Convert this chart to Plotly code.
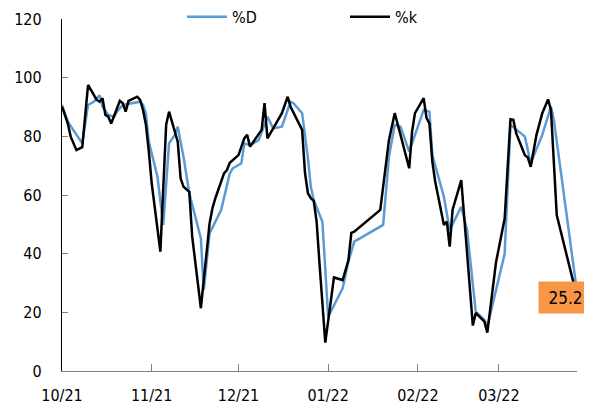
import plotly.graph_objects as go

k_dates = ["2021-10-01","2021-10-03","2021-10-04","2021-10-06","2021-10-08","2021-10-10","2021-10-13","2021-10-14","2021-10-15","2021-10-16",
           "2021-10-17","2021-10-18","2021-10-21","2021-10-22","2021-10-23","2021-10-24","2021-10-27","2021-10-28","2021-10-29","2021-10-30",
           "2021-10-31","2021-11-01","2021-11-04","2021-11-06","2021-11-07","2021-11-09","2021-11-10","2021-11-11","2021-11-12","2021-11-14",
           "2021-11-15","2021-11-18","2021-11-21","2021-11-22","2021-11-23","2021-11-26","2021-11-27","2021-11-28","2021-12-01","2021-12-03",
           "2021-12-04","2021-12-05","2021-12-08","2021-12-09","2021-12-10","2021-12-11","2021-12-13","2021-12-16","2021-12-18","2021-12-19",
           "2021-12-23","2021-12-24","2021-12-25","2021-12-26","2021-12-27","2021-12-28","2021-12-29","2021-12-31","2022-01-03","2022-01-06",
           "2022-01-08","2022-01-09","2022-01-10","2022-01-19","2022-01-22","2022-01-24","2022-01-26","2022-01-29","2022-01-30","2022-01-31",
           "2022-02-03","2022-02-04","2022-02-05","2022-02-06","2022-02-07","2022-02-10","2022-02-11","2022-02-12","2022-02-13","2022-02-16",
           "2022-02-20","2022-02-21","2022-02-24","2022-02-25","2022-02-28","2022-03-03","2022-03-05","2022-03-06","2022-03-07","2022-03-10",
           "2022-03-11","2022-03-12","2022-03-14","2022-03-16","2022-03-18","2022-03-19","2022-03-21","2022-03-28"]
k_values = [90.1,84.4,79.9,75.3,76.3,97.5,92.4,91.8,93.0,87.3,
            86.7,84.4,92.1,91.3,88.4,92.1,93.5,92.4,89.0,84.0,
            75.0,64.0,40.7,84.0,88.4,81.0,78.2,65.7,62.8,61.1,
            45.8,21.4,50.3,55.5,58.9,67.4,68.5,71.0,73.6,79.3,
            80.5,76.5,81.0,82.2,91.3,79.3,82.7,87.9,93.5,90.1,
            82.2,67.4,60.6,58.9,58.0,50.9,36.7,9.7,31.9,31.0,
            37.8,47.1,47.5,54.9,78.7,87.9,80.5,69.1,81.6,87.9,
            93.0,86.2,84.4,71.4,64.5,49.8,50.9,42.4,55.0,65.1,
            15.5,19.8,16.8,13.1,37.0,52.0,85.8,85.6,81.0,73.6,
            72.8,69.6,80.5,87.9,92.6,89.0,53.2,25.2]

d_dates = ["2021-10-01","2021-10-03","2021-10-08","2021-10-10","2021-10-12","2021-10-14","2021-10-15","2021-10-17","2021-10-19","2021-10-20",
           "2021-10-22","2021-10-28","2021-10-29","2021-10-30","2021-10-31","2021-11-03","2021-11-05","2021-11-07","2021-11-09","2021-11-10",
           "2021-11-12","2021-11-14","2021-11-18","2021-11-19","2021-11-21","2021-11-25","2021-11-28","2021-11-29","2021-12-02","2021-12-03",
           "2021-12-05","2021-12-08","2021-12-11","2021-12-13","2021-12-16","2021-12-19","2021-12-20","2021-12-23","2021-12-25","2021-12-26",
           "2021-12-27","2021-12-30","2022-01-01","2022-01-06","2022-01-08","2022-01-10","2022-01-20","2022-01-22","2022-01-24","2022-01-26",
           "2022-01-29","2022-01-31","2022-02-03","2022-02-05","2022-02-06","2022-02-10","2022-02-12","2022-02-16","2022-02-18","2022-02-21",
           "2022-02-24","2022-02-25","2022-02-28","2022-03-03","2022-03-05","2022-03-10","2022-03-12","2022-03-16","2022-03-19","2022-03-20",
           "2022-03-28"]
d_values = [90.7,85.0,77.6,90.7,91.8,94.0,90.1,87.3,86.7,88.4,
            90.7,91.8,90.7,87.9,78.2,66.2,49.8,77.6,80.5,83.3,
            73.0,60.6,45.2,27.6,46.9,54.9,67.4,69.1,70.8,77.6,
            77.0,78.7,86.7,82.7,83.3,91.8,91.3,87.9,72.5,62.8,
            58.3,50.9,18.5,28.2,37.3,44.1,49.8,73.0,83.9,83.3,
            74.8,80.5,89.0,88.4,73.6,59.4,48.1,56.0,48.1,20.2,
            17.4,15.1,27.6,40.0,83.9,79.9,70.8,80.5,90.1,85.6,
            27.0]

last_label = "25.2"
FONT = "DejaVu Sans Condensed, DejaVu Sans, sans-serif"

fig = go.Figure()
fig.add_trace(go.Scatter(x=d_dates, y=d_values, mode="lines", name="%D",
                         line=dict(color="#5B9BD5", width=2.5)))
fig.add_trace(go.Scatter(x=k_dates, y=k_values, mode="lines", name="%k",
                         line=dict(color="#000000", width=2.5)))

fig.add_annotation(x=k_dates[-1], y=k_values[-1], text=last_label, showarrow=False,
                   xshift=-12, bgcolor="#F79646", borderpad=6, width=41, height=19,
                   font=dict(family=FONT, size=17, color="#000000"))

fig.update_layout(
    width=584, height=400,
    margin=dict(l=54, r=15, t=11, b=37, autoexpand=False),
    paper_bgcolor="white", plot_bgcolor="white",
    font=dict(family=FONT, size=16, color="#000000"),
    showlegend=True,
    legend=dict(orientation="h", x=0.233, xanchor="left", y=1.006, yanchor="middle",
                bgcolor="rgba(0,0,0,0)", font=dict(size=16),
                entrywidth=108, entrywidthmode="pixels", itemwidth=40),
    xaxis=dict(type="date", range=["2021-10-01", "2022-03-28"],
               tick0="2021-10-01", dtick="M1", tickformat="%m/%y",
               showgrid=False, zeroline=False,
               showline=True, linecolor="#7F7F7F", linewidth=1.3,
               ticks="inside", ticklen=7, tickcolor="#7F7F7F",
               ticklabelstandoff=10, tickfont=dict(size=16)),
    yaxis=dict(range=[0, 120], dtick=20, showgrid=False, zeroline=False,
               showline=True, linecolor="#000000", linewidth=1.3,
               ticks="inside", ticklen=6, tickcolor="#7F7F7F",
               ticklabelstandoff=16, tickfont=dict(size=16)),
)

fig.write_html("out.html")
